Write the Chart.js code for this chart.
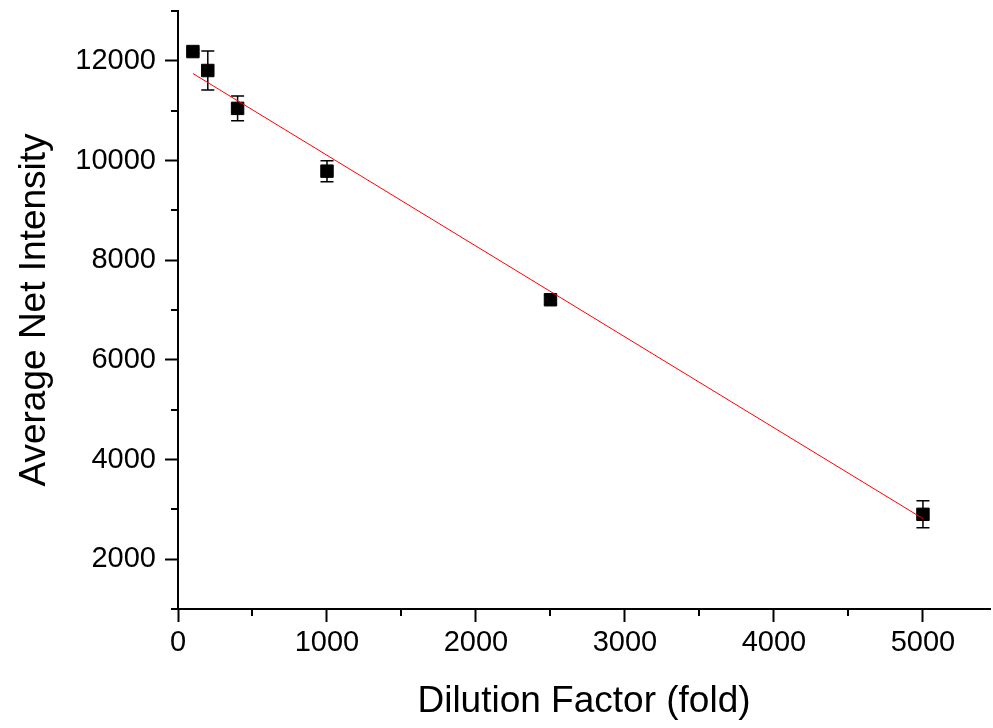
<!DOCTYPE html>
<html><head><meta charset="utf-8">
<script src="https://cdn.jsdelivr.net/npm/chart.js@4"></script>
<style>html,body{margin:0;padding:0;background:#fff;} #wrap{width:993px;height:728px;}</style>
</head><body><div id="wrap"><canvas id="c" width="993" height="728"></canvas></div>
<script>
const dilution = [100, 200, 400, 1000, 2500, 5000];
const intensity = [12186, 11806, 11046, 9786, 7206, 2900];
const intensityErr = [40, 390, 250, 210, 90, 270];
const fitX = [100, 5000];
const fitY = [11746, 2814];
const xMajorTicks = [0, 1000, 2000, 3000, 4000, 5000];
const xMinorTicks = [500, 1500, 2500, 3500, 4500];
const yMajorTicks = [2000, 4000, 6000, 8000, 10000, 12000];
const yMinorTicks = [1000, 3000, 5000, 7000, 9000, 11000, 13000];
const xTitle = 'Dilution Factor (fold)';
const yTitle = 'Average Net Intensity';

const FONT = '"Liberation Sans", Arial, sans-serif';

const zeroPad = s => { s.paddingLeft = 0; s.paddingRight = 0; s.paddingTop = 0; s.paddingBottom = 0; };

const errorBars = {
  id: 'errorBars',
  beforeDatasetsDraw(chart) {
    const {ctx, scales: {x, y}} = chart;
    ctx.save();
    ctx.strokeStyle = '#000';
    ctx.lineWidth = 1.5;
    dilution.forEach((d, i) => {
      const px = x.getPixelForValue(d);
      const pt = y.getPixelForValue(intensity[i] + intensityErr[i]);
      const pb = y.getPixelForValue(intensity[i] - intensityErr[i]);
      const hw = 6.5;
      ctx.beginPath();
      ctx.moveTo(px, pt); ctx.lineTo(px, pb);
      ctx.moveTo(px - hw, pt); ctx.lineTo(px + hw, pt);
      ctx.moveTo(px - hw, pb); ctx.lineTo(px + hw, pb);
      ctx.stroke();
    });
    ctx.restore();
  }
};

const minorTicks = {
  id: 'minorTicks',
  afterDraw(chart) {
    const {ctx, scales: {x, y}} = chart;
    ctx.save();
    ctx.strokeStyle = '#000';
    ctx.lineWidth = 2;
    ctx.beginPath();
    xMinorTicks.forEach(v => {
      const px = Math.round(x.getPixelForValue(v));
      ctx.moveTo(px, x.top); ctx.lineTo(px, x.top + 7);
    });
    yMinorTicks.forEach(v => {
      const py = Math.round(y.getPixelForValue(v));
      ctx.moveTo(y.right, py); ctx.lineTo(y.right - 7, py);
    });
    ctx.stroke();
    ctx.restore();
  }
};

new Chart(document.getElementById('c'), {
  type: 'scatter',
  data: {
    datasets: [
      {
        label: 'fit',
        data: fitX.map((v, i) => ({x: v, y: fitY[i]})),
        showLine: true,
        borderColor: '#ff0000',
        borderWidth: 1,
        pointRadius: 0,
        order: 0
      },
      {
        label: 'data',
        data: dilution.map((v, i) => ({x: v, y: intensity[i]})),
        pointStyle: 'rect',
        pointRadius: 8.8,
        backgroundColor: '#000',
        borderColor: '#000',
        borderWidth: 1,
        order: 1
      }
    ]
  },
  options: {
    responsive: false,
    devicePixelRatio: 1,
    animation: false,
    layout: {autoPadding: false, padding: {top: 11, right: 3, left: 0, bottom: 0}},
    plugins: {legend: {display: false}, tooltip: {enabled: false}},
    scales: {
      x: {
        type: 'linear',
        min: 0, max: 5450,
        afterBuildTicks: s => { s.ticks = xMajorTicks.map(v => ({value: v})); },
        afterFit: s => { s.height = 119; zeroPad(s); },
        ticks: {font: {family: FONT, size: 29}, color: '#000', padding: 4, autoSkip: false, maxRotation: 0, callback: v => String(v)},
        grid: {drawOnChartArea: false, drawTicks: true, tickLength: 13, tickWidth: 2, tickColor: '#000'},
        border: {display: true, color: '#000', width: 2},
        title: {display: true, text: xTitle, color: '#000', font: {family: FONT, size: 37}, padding: {top: 0, bottom: 4}}
      },
      y: {
        type: 'linear',
        min: 1000, max: 13000,
        afterBuildTicks: s => { s.ticks = yMajorTicks.map(v => ({value: v})); },
        afterFit: s => { s.width = 178; zeroPad(s); },
        ticks: {font: {family: FONT, size: 29}, color: '#000', padding: 9, autoSkip: false, callback: v => String(v)},
        grid: {drawOnChartArea: false, drawTicks: true, tickLength: 13, tickWidth: 2, tickColor: '#000'},
        border: {display: true, color: '#000', width: 2},
        title: {display: true, text: yTitle, color: '#000', font: {family: FONT, size: 37}, padding: {top: 13, bottom: 0}}
      }
    }
  },
  plugins: [errorBars, minorTicks]
});
</script>
</body></html>
